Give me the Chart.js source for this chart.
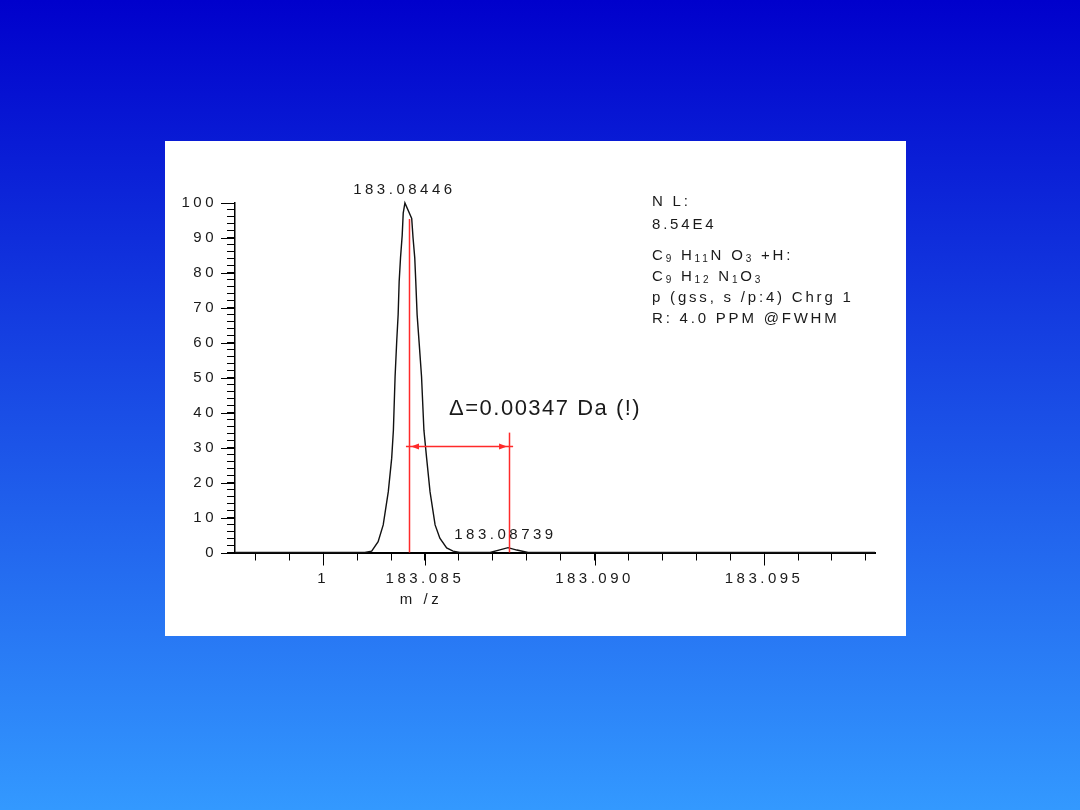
<!DOCTYPE html>
<html>
<head>
<meta charset="utf-8">
<title>m/z 183.08446</title>
<script src="https://cdn.jsdelivr.net/npm/chart.js@4.4.1/dist/chart.umd.min.js"></script>
<style>
  html, body { margin: 0; padding: 0; }
  body {
    width: 1080px; height: 810px; overflow: hidden; position: relative;
    background: linear-gradient(to bottom, #0000cc 0%, #3399ff 100%);
  }
  #panel { position: absolute; left: 165px; top: 141px; width: 741px; height: 495px; background: #fff; }
</style>
</head>
<body>
<div id="panel"><canvas id="spectrumChart"></canvas></div>
<script>
'use strict';

// perfil do pico: m/z x intensidade relativa (%)
const mz = [183.07940, 183.08323, 183.08343, 183.08362, 183.08377, 183.08392, 183.08402, 183.08407,
  183.08412, 183.08417, 183.08421, 183.08424, 183.08428, 183.08433, 183.08436, 183.08441,
  183.08461, 183.08465, 183.08470, 183.08473, 183.08477, 183.08483, 183.08490, 183.08497,
  183.08505, 183.08515, 183.08530, 183.08544, 183.08564, 183.08583, 183.08603, 183.08692,
  183.08718, 183.08745, 183.08771, 183.08804, 183.09827];
const intensity = [0, 0, 0.4, 3.1, 7.9, 17.4, 27.0, 35.0,
  50.3, 60.8, 68.0, 77.5, 84.3, 90.8, 97.1, 100,
  95.6, 90.0, 84.3, 77.5, 68.0, 59.9, 50.3, 35.0,
  27.0, 17.4, 7.9, 4.1, 1.3, 0.4, 0, 0,
  0.7, 1.4, 0.7, 0, 0];

const X_MIN = 183.07940;
const X_MAX = 183.09827;
const xTickValues = [183.080, 183.081, 183.082, 183.083, 183.084, 183.085, 183.086, 183.087, 183.088, 183.089,
  183.090, 183.091, 183.092, 183.093, 183.094, 183.095, 183.096, 183.097, 183.098];
const xTickLabels = ['', '', '1', '', '', '183.085', '', '', '', '',
  '183.090', '', '', '', '', '183.095', '', '', ''];
const yMajorTicks = [0, 10, 20, 30, 40, 50, 60, 70, 80, 90, 100];
const Y_MINOR_STEP = 2;

// rótulos dos picos
const peakLabels = ['183.08446', '183.08739'];
const peakLabelMz = [183.08435, 183.08733];
const peakLabelY = [100, 1.4];

// marcadores vermelhos (delta)
const markerMz = [183.08453, 183.08748];
const markerTop = [95.4, 34.3];
const deltaRange = [183.08444, 183.08760];
const deltaY = 30.6;
const deltaText = 'Δ=0.00347 Da (!)';
const deltaPos = [183.08571, 41.0];

// bloco de informações (texto, subscrito?)
const infoLines = [
  [['N L:', 0]],
  [['8.54E4', 0]],
  [['C', 0], ['9', 1], [' H', 0], ['11', 1], ['N O', 0], ['3', 1], [' +H:', 0]],
  [['C', 0], ['9', 1], [' H', 0], ['12', 1], [' N', 0], ['1', 1], ['O', 0], ['3', 1]],
  [['p (gss, s /p:4) Chrg 1', 0]],
  [['R: 4.0 PPM @FWHM', 0]]
];
const infoLineY = [61, 84, 115, 136, 157, 178];
const xTitle = 'm /z';

const FONT = "'Liberation Sans', Arial, sans-serif";
const TEXT_COLOR = '#1a1a1a';
const RED = '#ff2a2a';
const SPACING = '3.5px';

function drawRuns(ctx, runs, x, y) {
  runs.forEach(([txt, sub]) => {
    ctx.font = (sub ? '10px ' : '15px ') + FONT;
    ctx.fillText(txt, x, y + (sub ? 3 : 0));
    x += ctx.measureText(txt).width;
  });
}

const annotations = {
  id: 'annotations',
  beforeDraw(chart) {
    chart.ctx.letterSpacing = SPACING;
  },
  afterDatasetsDraw(chart) {
    const { ctx, scales: { x, y } } = chart;
    ctx.save();
    ctx.strokeStyle = RED;
    ctx.fillStyle = RED;
    ctx.lineWidth = 1.5;
    markerMz.forEach((m, i) => {
      const px = Math.round(x.getPixelForValue(m)) + 0.5;
      ctx.beginPath();
      ctx.moveTo(px, y.getPixelForValue(markerTop[i]));
      ctx.lineTo(px, y.getPixelForValue(0));
      ctx.stroke();
    });
    const hy = Math.round(y.getPixelForValue(deltaY)) + 0.5;
    ctx.beginPath();
    ctx.moveTo(x.getPixelForValue(deltaRange[0]), hy);
    ctx.lineTo(x.getPixelForValue(deltaRange[1]), hy);
    ctx.stroke();
    // pontas de seta apontando para as linhas verticais
    [[markerMz[0], 1], [markerMz[1], -1]].forEach(([m, dir]) => {
      const tip = x.getPixelForValue(m) + dir * 2;
      ctx.beginPath();
      ctx.moveTo(tip, hy);
      ctx.lineTo(tip + dir * 8, hy - 3);
      ctx.lineTo(tip + dir * 8, hy + 3);
      ctx.closePath();
      ctx.fill();
    });
    ctx.restore();
  },
  afterDraw(chart) {
    const { ctx, chartArea, scales: { x, y } } = chart;
    ctx.save();
    ctx.strokeStyle = '#000';
    ctx.lineWidth = 1;
    // ticks maiores
    yMajorTicks.forEach(v => {
      const py = Math.round(y.getPixelForValue(v)) + 0.5;
      ctx.beginPath();
      ctx.moveTo(chartArea.left - 14, py);
      ctx.lineTo(chartArea.left, py);
      ctx.stroke();
    });
    xTickValues.forEach((v, i) => {
      if (!xTickLabels[i]) return;
      const px = Math.round(x.getPixelForValue(v)) + 0.5;
      ctx.beginPath();
      ctx.moveTo(px, chartArea.bottom);
      ctx.lineTo(px, chartArea.bottom + 13);
      ctx.stroke();
    });

    ctx.fillStyle = TEXT_COLOR;
    ctx.letterSpacing = SPACING;
    ctx.font = '15px ' + FONT;
    ctx.textAlign = 'center';
    ctx.textBaseline = 'middle';
    peakLabels.forEach((t, i) => {
      ctx.fillText(t, x.getPixelForValue(peakLabelMz[i]) + 1.5, y.getPixelForValue(peakLabelY[i]) - 13);
    });
    ctx.fillText(xTitle, 256, 459);

    ctx.textAlign = 'left';
    ctx.letterSpacing = '2.8px';
    infoLines.forEach((runs, i) => drawRuns(ctx, runs, 487, infoLineY[i]));

    ctx.letterSpacing = '1.5px';
    ctx.font = '22px ' + FONT;
    ctx.fillText(deltaText, x.getPixelForValue(deltaPos[0]), y.getPixelForValue(deltaPos[1]));
    ctx.restore();
  }
};

function renderSpectrumChart() {
  const ctx = document.getElementById('spectrumChart');
  if (!ctx) return;

  window.spectrumChart = new Chart(ctx, {
    type: 'line',
    data: {
      datasets: [{
        data: mz.map((m, i) => ({ x: m, y: intensity[i] })),
        borderColor: '#111',
        borderWidth: 1.4,
        pointRadius: 0,
        tension: 0,
        clip: false
      }]
    },
    options: {
      responsive: true,
      maintainAspectRatio: false,
      animation: false,
      layout: { padding: { top: 62, right: 31, left: 0, bottom: 0 } },
      plugins: { legend: { display: false }, tooltip: { enabled: false } },
      scales: {
        x: {
          type: 'linear',
          min: X_MIN,
          max: X_MAX,
          afterBuildTicks: s => { s.ticks = xTickValues.map(v => ({ value: v })); },
          afterFit: s => { s.height = 83.5; },
          grid: { display: true, drawOnChartArea: false, drawTicks: true, tickLength: 8, tickColor: '#000', tickWidth: 1 },
          border: { display: true, color: '#000', width: 2 },
          ticks: {
            autoSkip: false, maxRotation: 0, padding: 9, color: TEXT_COLOR,
            font: { family: FONT, size: 15 },
            callback: (v, i) => xTickLabels[i]
          }
        },
        y: {
          min: 0,
          max: 100,
          afterBuildTicks: s => {
            const ticks = [];
            for (let v = s.min; v <= s.max; v += Y_MINOR_STEP) ticks.push({ value: v });
            s.ticks = ticks;
          },
          afterFit: s => { s.width = 70; },
          grid: { display: true, drawOnChartArea: false, drawTicks: true, tickLength: 8, tickColor: '#000', tickWidth: 1 },
          border: { display: true, color: '#000', width: 1.5 },
          ticks: {
            autoSkip: false, padding: 10, color: TEXT_COLOR,
            font: { family: FONT, size: 15 },
            callback: v => (yMajorTicks.includes(v) ? String(v) : '')
          }
        }
      }
    },
    plugins: [annotations]
  });
}

renderSpectrumChart();
</script>
</body>
</html>
